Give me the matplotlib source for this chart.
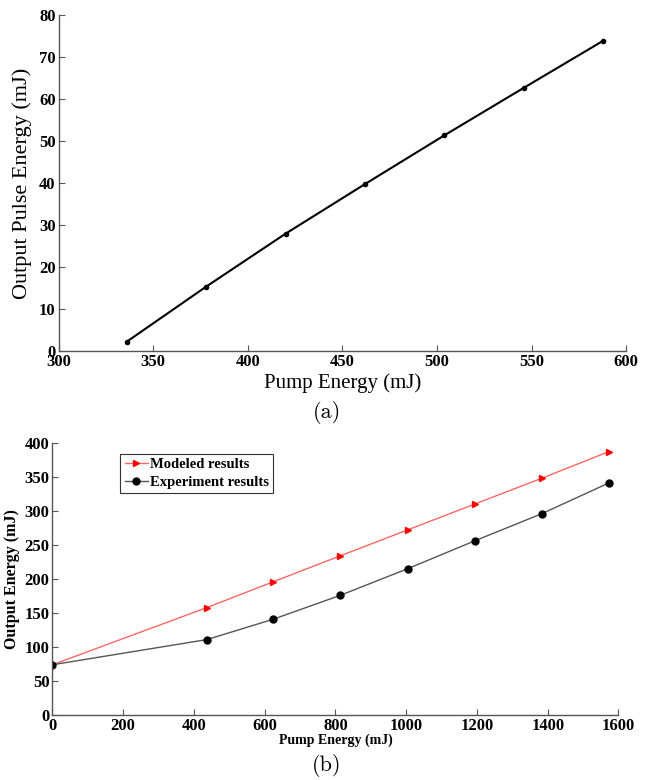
import matplotlib
matplotlib.use("Agg")
import matplotlib.pyplot as plt
import numpy as np

# (a) pump energy vs output pulse energy
pump_a = [336, 378, 420, 462, 504, 546, 588]
out_a = [2.3, 15.4, 28.0, 39.8, 51.4, 62.7, 73.9]

# (b) modeled vs experiment
pump_b = [0, 437, 625, 814, 1004, 1194, 1384, 1573]
modeled = [74, 158, 196, 234, 272, 310, 348, 387]
experiment = [74, 111, 141, 176, 215, 256, 296, 341]

plt.rcParams['font.family'] = ['Liberation Serif', 'DejaVu Serif']

fig = plt.figure(figsize=(6.45, 7.8), dpi=100)


def style_axes(ax):
    for side in ['top', 'right']:
        ax.spines[side].set_visible(False)
    for side in ['left', 'bottom']:
        ax.spines[side].set_color('#555555')
        ax.spines[side].set_linewidth(1.0)
    ax.tick_params(direction='in', length=4, width=0.8, color='#555555',
                   labelsize=12, pad=2)
    for lab in ax.get_xticklabels() + ax.get_yticklabels():
        lab.set_fontweight('bold')


# --- (a) ---
ax1 = fig.add_axes([0.0907, 0.5494, 0.880, 0.4314])
ax1.plot(pump_a, out_a, color='black', lw=1.5, marker='o', ms=3)
ax1.set_xlim(300, 600)
ax1.set_ylim(0, 80)
ax1.set_xticks(np.arange(300, 601, 50))
ax1.set_yticks(np.arange(0, 81, 10))
style_axes(ax1)
ax1.set_xlabel('Pump Energy (mJ)', fontsize=15, labelpad=2)
ax1.set_ylabel('Output Pulse Energy (mJ)', fontsize=16, labelpad=5)
fig.text(0.507, 0.471, '(a)', fontname='cmr10', fontsize=16,
         ha='center', va='center')

# --- (b) ---
ax2 = fig.add_axes([0.0811, 0.0831, 0.8778, 0.3493])
ax2.plot(pump_b, modeled, color='#ff6666', lw=1.0, marker='>', ms=5,
         mfc='red', mec='red', label='Modeled results')
ax2.plot(pump_b, experiment, color='#555555', lw=1.0, marker='o', ms=5,
         mfc='black', mec='black', label='Experiment results')
ax2.set_xlim(0, 1600)
ax2.set_ylim(0, 400)
ax2.set_xticks(np.arange(0, 1601, 200))
ax2.set_yticks(np.arange(0, 401, 50))
style_axes(ax2)
ax2.set_xlabel('Pump Energy (mJ)', fontsize=10, fontweight='bold', labelpad=0)
ax2.set_ylabel('Output Energy (mJ)', fontsize=11.5, fontweight='bold', labelpad=3)
leg = ax2.legend(loc='upper left', bbox_to_anchor=(0.115, 0.97),
                 prop={'weight': 'bold', 'size': 10.5}, fancybox=False,
                 framealpha=1, edgecolor='#333333', handlelength=1.6,
                 handletextpad=0.1, borderpad=0.3, labelspacing=0.3,
                 borderaxespad=0.2)
leg.get_frame().set_linewidth(0.8)
fig.text(0.507, 0.018, '(b)', fontname='cmr10', fontsize=16,
         ha='center', va='center')

fig.savefig('out.png', dpi=100)
